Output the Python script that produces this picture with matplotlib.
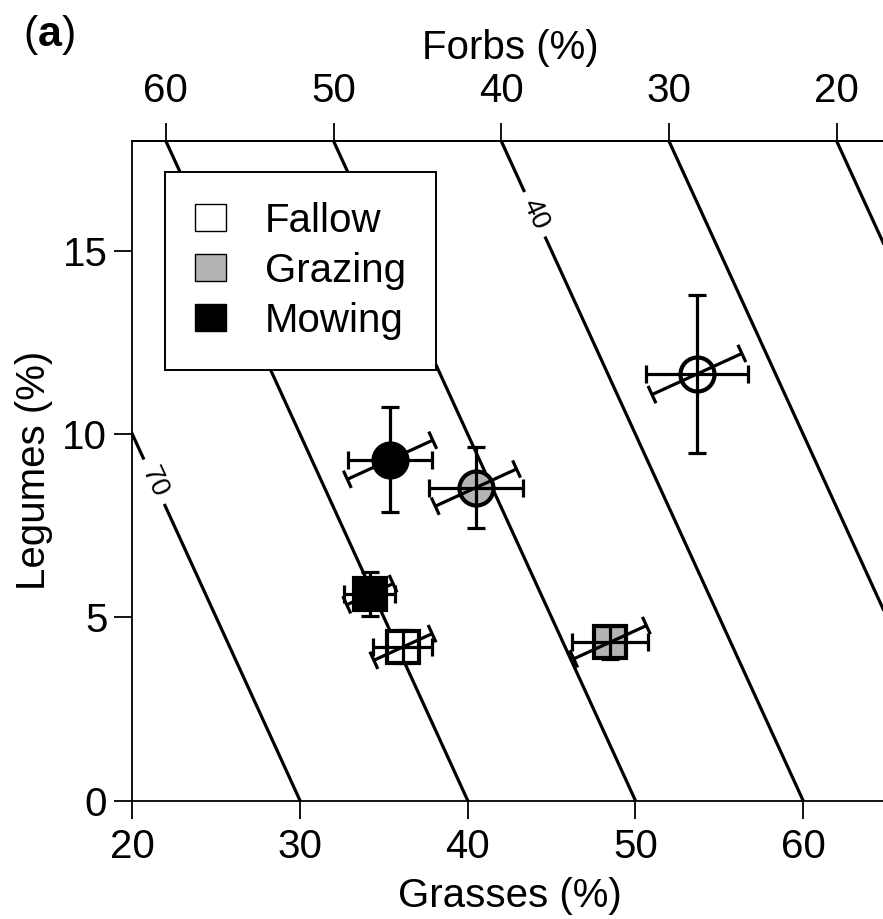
import numpy as np
import matplotlib.pyplot as plt
from matplotlib.patches import Patch

plt.rcParams['font.family'] = ['Liberation Sans', 'DejaVu Sans']
plt.rcParams['mathtext.fontset'] = 'custom'
plt.rcParams['mathtext.rm'] = 'Liberation Sans'
plt.rcParams['mathtext.bf'] = 'Liberation Sans:bold'

# Mean composition (%) and standard errors per treatment
treatments = ['Fallow', 'Grazing', 'Mowing']
fills = ['white', '#b4b4b4', 'black']

# circles
circ_grass = [53.67, 40.49, 35.37]
circ_leg = [11.64, 8.54, 9.30]
circ_se_grass = [3.04, 2.80, 2.50]
circ_se_leg = [2.16, 1.10, 1.43]
circ_se_forb = [3.24, 2.93, 3.08]

# squares
sq_grass = [36.14, 48.49, 34.17]
sq_leg = [4.19, 4.32, 5.63]
sq_se_grass = [1.76, 2.27, 1.52]
sq_se_leg = [0.45, 0.45, 0.60]
sq_se_forb = [2.10, 2.62, 1.67]

forb_levels = [20, 30, 40, 50, 60, 70]
forb_ticks = [60, 50, 40, 30, 20]
labelled_levels = [40, 70]
label_spots = [(44.0, 16.0), (21.3, 8.7)]

xmin, xmax = 20, 66
ymin, ymax = 0, 18
FS = 29
LW = 2.3

fig = plt.figure(figsize=(8.83, 9.19), dpi=100)
ax = fig.add_axes([132.3 / 883, 118.5 / 919, 771.4 / 883, 659.5 / 919])
ax.set_xlim(xmin, xmax)
ax.set_ylim(ymin, ymax)

# iso-lines of forbs = 100 - grasses - legumes
G, L = np.meshgrid(np.linspace(0, 100, 201), np.linspace(-5, 25, 61))
F = 100 - G - L
plain = [lv for lv in forb_levels if lv not in labelled_levels]
ax.contour(G, L, F, levels=plain, colors='k', linewidths=LW, zorder=1)
cs = ax.contour(G, L, F, levels=labelled_levels, colors='k', linewidths=LW, zorder=1)
ax.clabel(cs, inline=True, fmt='%d', fontsize=20, inline_spacing=9,
          manual=label_spots)

# screen scale of the data axes, used to tilt the forbs bars
o = ax.transData.transform((0, 0))
sx = ax.transData.transform((1, 0))[0] - o[0]
sy = ax.transData.transform((0, 1))[1] - o[1]
d = np.array([sy / sx, sx / sy])  # perpendicular to the forbs iso-lines on screen
cap_px = 9.5


def forb_bar(g, l, se):
    t = se / (d[0] + d[1])
    p0 = np.array([g, l]) - t * d
    p1 = np.array([g, l]) + t * d
    ax.plot([p0[0], p1[0]], [p0[1], p1[1]], color='k', lw=LW, zorder=4,
            solid_capstyle='butt')
    e0, e1 = ax.transData.transform(p0), ax.transData.transform(p1)
    u = (e1 - e0) / np.hypot(*(e1 - e0))
    v = np.array([-u[1], u[0]])
    inv = ax.transData.inverted()
    for e in (e0, e1):
        c = inv.transform([e - v * cap_px, e + v * cap_px])
        ax.plot(c[:, 0], c[:, 1], color='k', lw=LW, zorder=4, solid_capstyle='butt')


for marker, ms, gr, lg, seg, sel, sef in [
        ('o', 24.5, circ_grass, circ_leg, circ_se_grass, circ_se_leg, circ_se_forb),
        ('s', 23.0, sq_grass, sq_leg, sq_se_grass, sq_se_leg, sq_se_forb)]:
    for i in range(len(treatments)):
        ax.plot(gr[i], lg[i], ls='none', marker=marker, ms=ms, mfc=fills[i],
                mec='k', mew=3.0, zorder=3)
        ax.errorbar(gr[i], lg[i], xerr=seg[i], yerr=sel[i], fmt='none', ecolor='k',
                    elinewidth=LW, capsize=6.8, capthick=LW, zorder=4)
        forb_bar(gr[i], lg[i], sef[i])

# axes
for s in ax.spines.values():
    s.set_linewidth(1.3)
ax.set_xticks([20, 30, 40, 50, 60])
ax.set_yticks([0, 5, 10, 15])
ax.tick_params(direction='out', length=13, width=1.3, labelsize=FS, pad=5)
ax.tick_params(axis='x', pad=7)
ax.set_xlabel('Grasses (%)', fontsize=FS, x=0.49, labelpad=8)
ax.set_ylabel('Legumes (%)', fontsize=FS, labelpad=7)

top = ax.secondary_xaxis('top', functions=(lambda x: 100 - ymax - x,
                                           lambda f: 100 - ymax - f))
top.set_xticks(forb_ticks)
top.tick_params(direction='out', length=13, width=1.3, labelsize=FS, pad=9)
top.spines['top'].set_linewidth(1.3)
top.set_xlabel('Forbs (%)', fontsize=FS, x=0.49, labelpad=10)

handles = [Patch(facecolor=f, edgecolor='k', linewidth=1.0) for f in fills]
leg = ax.legend(handles, treatments, loc='upper left', bbox_to_anchor=(0.0424, 0.953),
                borderaxespad=0, fontsize=FS, handlelength=0.77, handleheight=0.65,
                handletextpad=0.97, labelspacing=0.3, borderpad=0.74,
                fancybox=False, framealpha=1, edgecolor='k')
leg.get_frame().set_linewidth(1.4)
leg.set_zorder(10)

fig.text(0.055, 0.962, r'($\mathbf{a}$)', fontsize=31, ha='center', va='center')

fig.savefig('out.png', dpi=100)
